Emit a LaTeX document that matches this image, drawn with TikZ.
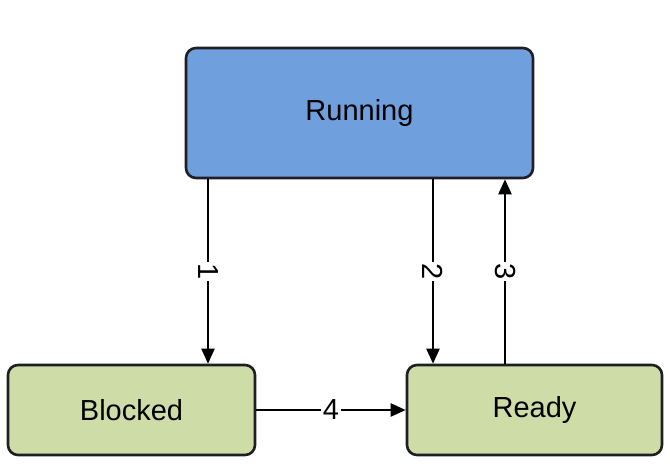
\documentclass[tikz,border=0pt]{standalone}
\usepackage{fontspec}
\setmainfont{Liberation Sans}
\usetikzlibrary{arrows.meta}
\definecolor{runblue}{HTML}{6F9FDC}
\definecolor{boxgreen}{HTML}{CEDCA8}
\definecolor{edge}{HTML}{1E1E24}
\begin{document}
\begin{tikzpicture}[x=1pt,y=-1pt,
  state/.style={draw=edge, line width=2.6pt, rounded corners=10pt, inner sep=0pt},
  arr/.style={line width=2.3pt, -{Triangle[length=15pt,width=13pt]}},
  lbl/.style={fill=white, inner sep=1.5pt, font=\fontsize{29}{29}\selectfont}]
\useasboundingbox (0,0) rectangle (670,474);
\node[state, fill=runblue, minimum width=347pt, minimum height=130pt,
  font=\fontsize{29}{29}\selectfont] (running) at (359.5,113) {Running};
\node[state, fill=boxgreen, minimum width=247pt, minimum height=90pt,
  font=\fontsize{29}{29}\selectfont] (blocked) at (131.5,410) {Blocked};
\node[state, fill=boxgreen, minimum width=255pt, minimum height=90pt,
  font=\fontsize{29}{29}\selectfont] (ready) at (534.5,410) {Ready};
\coordinate (c1) at (208,0);
\coordinate (c2) at (433,0);
\coordinate (c3) at (505,0);
\draw[arr] (running.south -| c1) -- node[lbl, rotate=-90] {1} (blocked.north -| c1);
\draw[arr] (running.south -| c2) -- node[lbl, rotate=-90] {2} (ready.north -| c2);
\draw[arr] (ready.north -| c3) -- node[lbl, rotate=-90] {3} (running.south -| c3);
\draw[arr] (blocked.east) -- node[lbl] {4} (ready.west);
\end{tikzpicture}
\end{document}
